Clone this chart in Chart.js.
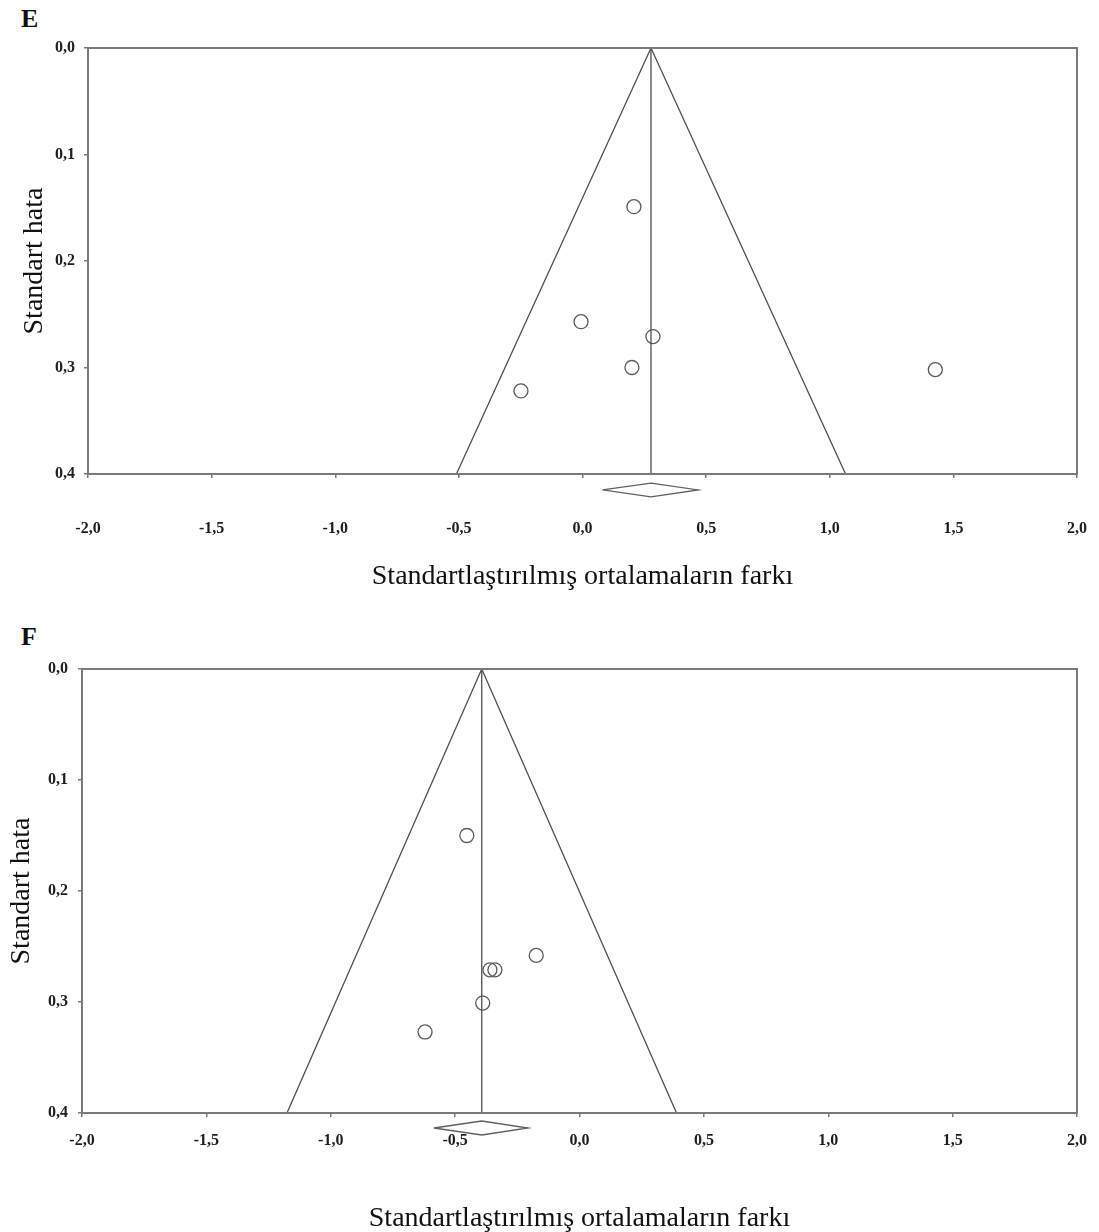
<!DOCTYPE html>
<html>
<head>
<meta charset="utf-8">
<script src="https://cdn.jsdelivr.net/npm/chart.js@4/dist/chart.umd.min.js"></script>
<style>
  html, body { margin: 0; padding: 0; background: #fff; }
  body { width: 1099px; height: 1232px; position: relative; overflow: hidden; }
  .wrap { position: absolute; left: 0; }
  .lbl { position: absolute; font-family: 'Liberation Serif', serif; font-weight: bold; font-size: 26px; color: #111; }
</style>
</head>
<body>
<div class="lbl" style="left:21px; top:4px;">E</div>
<div class="lbl" style="left:21px; top:622px;">F</div>
<div class="wrap" style="top:0px;"><canvas id="cE" width="1099" height="600"></canvas></div>
<div class="wrap" style="top:612px;"><canvas id="cF" width="1099" height="620"></canvas></div>
<script>
// ---------- Data ----------
const xTickValues = [-2.0, -1.5, -1.0, -0.5, 0.0, 0.5, 1.0, 1.5, 2.0];
const yTickValues = [0.0, 0.1, 0.2, 0.3, 0.4];

// Panel E
const studyEffectE = [0.208, -0.006, 0.285, 0.200, -0.249, 1.427];
const studySeE     = [0.149, 0.257, 0.271, 0.300, 0.322, 0.302];
const funnelXE     = [-0.51, 0.277, 1.064];
const funnelYE     = [0.4, 0.0, 0.4];
const meanLineXE   = [0.277, 0.277];
const meanLineYE   = [0.0, 0.4];
const diamondXE    = [0.081, 0.277, 0.468, 0.277, 0.081];
const diamondYE    = [0.415, 0.4085, 0.415, 0.4215, 0.415];

// Panel F
const studyEffectF = [-0.453, -0.174, -0.360, -0.340, -0.389, -0.621];
const studySeF     = [0.150, 0.258, 0.271, 0.271, 0.301, 0.327];
const funnelXF     = [-1.176, -0.393, 0.39];
const funnelYF     = [0.4, 0.0, 0.4];
const meanLineXF   = [-0.393, -0.393];
const meanLineYF   = [0.0, 0.4];
const diamondXF    = [-0.585, -0.393, -0.207, -0.393, -0.585];
const diamondYF    = [0.4135, 0.4072, 0.4135, 0.4198, 0.4135];

const xTitle = 'Standartlaştırılmış ortalamaların farkı';
const yTitle = 'Standart hata';

// ---------- helpers ----------
const zip = (xs, ys) => xs.map((x, i) => ({ x: x, y: ys[i] }));
const fmt = v => v.toFixed(1).replace('.', ',');

const framePlugin = {
  id: 'frame',
  afterDatasetsDraw(chart) {
    const { ctx, chartArea: a } = chart;
    ctx.save();
    ctx.strokeStyle = '#7a7a7a';
    ctx.lineWidth = 2;
    ctx.strokeRect(a.left, a.top, a.right - a.left, a.bottom - a.top);
    ctx.restore();
  }
};

function makeChart(id, cfg) {
  const lineStyle = { showLine: true, pointRadius: 0, borderColor: '#505050', borderWidth: 1.3, fill: false, tension: 0 };
  return new Chart(document.getElementById(id), {
    type: 'scatter',
    data: {
      datasets: [
        Object.assign({ data: zip(cfg.funnelX, cfg.funnelY) }, lineStyle),
        Object.assign({ data: zip(cfg.meanX, cfg.meanY) }, lineStyle),
        Object.assign({ data: zip(cfg.diamondX, cfg.diamondY), clip: false }, lineStyle, { borderColor: '#606060' }),
        {
          data: zip(cfg.effect, cfg.se),
          pointStyle: 'circle',
          pointRadius: 7,
          pointBorderWidth: 1.3,
          pointBorderColor: '#5a5a5a',
          pointBackgroundColor: 'rgba(255,255,255,0)',
          showLine: false
        }
      ]
    },
    options: {
      responsive: false,
      devicePixelRatio: 1,
      animation: false,
      layout: { padding: { top: cfg.padTop, right: 22, left: 0, bottom: 0 } },
      plugins: { legend: { display: false }, tooltip: { enabled: false }, title: { display: false } },
      scales: {
        x: {
          type: 'linear',
          min: -2, max: 2,
          afterBuildTicks: s => { s.ticks = xTickValues.map(v => ({ value: v })); },
          afterFit: s => { s.height = cfg.xAxisHeight; s.paddingLeft = 0; s.paddingRight = 0; },
          ticks: {
            callback: v => fmt(v),
            padding: cfg.xTickPad,
            maxRotation: 0,
            autoSkip: false,
            color: '#1e1e1e',
            font: { family: 'Liberation Serif', size: 16, weight: 'bold' }
          },
          grid: { display: true, drawOnChartArea: false, drawTicks: true, tickLength: 4, color: '#7a7a7a', lineWidth: 1.5 },
          border: { display: true, color: '#7a7a7a', width: 2 },
          title: {
            display: true, text: xTitle, color: '#111',
            font: { family: 'Liberation Serif', size: 28, weight: 'normal' },
            padding: { top: 0, bottom: cfg.xTitlePadBottom }
          }
        },
        y: {
          type: 'linear',
          min: 0, max: 0.4,
          reverse: true,
          afterBuildTicks: s => { s.ticks = yTickValues.map(v => ({ value: v })); },
          afterFit: s => { s.width = cfg.yAxisWidth; s.paddingTop = 0; s.paddingBottom = 0; },
          ticks: {
            callback: v => fmt(v),
            padding: cfg.yTickPad,
            color: '#1e1e1e',
            font: { family: 'Liberation Serif', size: 16, weight: 'bold' }
          },
          grid: { display: true, drawOnChartArea: false, drawTicks: true, tickLength: 4, color: '#7a7a7a', lineWidth: 1.5 },
          border: { display: true, color: '#7a7a7a', width: 2 },
          title: {
            display: true, text: yTitle, color: '#111',
            font: { family: 'Liberation Serif', size: 28, weight: 'normal' },
            padding: { top: cfg.yTitlePadTop, bottom: 0 }
          }
        }
      }
    },
    plugins: [framePlugin]
  });
}

makeChart('cE', {
  effect: studyEffectE, se: studySeE,
  funnelX: funnelXE, funnelY: funnelYE,
  meanX: meanLineXE, meanY: meanLineYE,
  diamondX: diamondXE, diamondY: diamondYE,
  padTop: 48, xAxisHeight: 126, yAxisWidth: 88,
  xTickPad: 41, yTickPad: 9, xTitlePadBottom: 7, yTitlePadTop: 18
});

makeChart('cF', {
  effect: studyEffectF, se: studySeF,
  funnelX: funnelXF, funnelY: funnelYF,
  meanX: meanLineXF, meanY: meanLineYF,
  diamondX: diamondXF, diamondY: diamondYF,
  padTop: 57, xAxisHeight: 119, yAxisWidth: 82,
  xTickPad: 14, yTickPad: 10, xTitlePadBottom: -3, yTitlePadTop: 5
});
</script>
</body>
</html>
